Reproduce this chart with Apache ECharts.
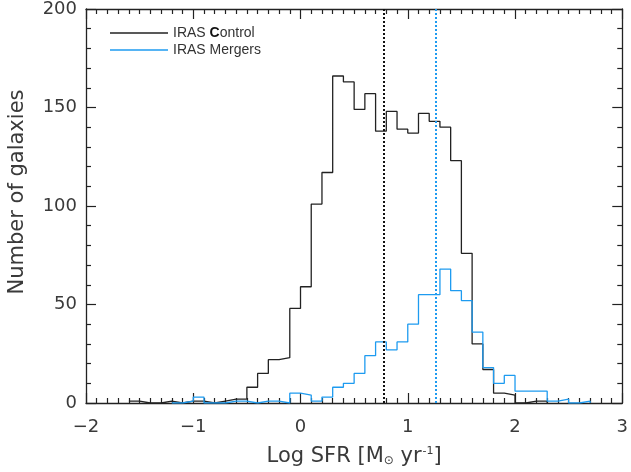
<!DOCTYPE html>
<html>
<head>
<meta charset="utf-8">
<script src="https://cdn.jsdelivr.net/npm/echarts@6/dist/echarts.min.js"></script>
<style>
  html, body { margin: 0; padding: 0; background: #fff; }
  #chart { width: 631px; height: 472px; }
</style>
</head>
<body>
<div id="chart"></div>
<script type="text/javascript">
// histogram bins, width 0.1 in Log SFR
var binWidth = 0.1;
var controlStart = -1.6;
var controlCounts = [1, 0, 0, 1, 0, 1, 1, 0, 1, 2, 2, 8, 15, 22, 23, 48, 59, 101, 117, 166,
                     163, 149, 157, 138, 148, 139, 137, 147, 143, 140, 123, 76, 30, 17, 5, 4, 0, 1, 1];
var mergerStart = -1.2;
var mergerCounts = [0, 1, 3, 0, 0, 1, 1, 0, 1, 1, 0, 5, 4, 1, 3, 8, 10, 15, 24, 31,
                    27, 31, 40, 55, 55, 68, 57, 52, 36, 18, 10, 14, 6, 6, 6, 1, 2, 0, 1];
var controlMedian = 0.78;
var mergerMedian = 1.26;

var xTicks = [-2, -1, 0, 1, 2, 3];
var yTicks = [0, 50, 100, 150, 200];

var font = 'DejaVu Sans';
var legendFont = 'Liberation Sans';

// step points: one per bin left edge, plus the closing edge
function stepPoints(start, counts) {
  var pts = [];
  for (var i = 0; i < counts.length; i++) {
    pts.push([+(start + i * binWidth).toFixed(2), counts[i]]);
  }
  var end = +(start + counts.length * binWidth).toFixed(2);
  pts.push([end, counts[counts.length - 1]]);
  pts.push([end, 0]);
  return pts;
}

var myChart = echarts.init(document.getElementById('chart'), null, { renderer: 'canvas' });

var axisCommon = {
  axisLine: { show: true, onZero: false, lineStyle: { color: '#222', width: 1.3 } },
  axisTick: { show: true, inside: true, length: 10, lineStyle: { color: '#222', width: 1.2 } },
  minorTick: { show: true, length: 5, lineStyle: { color: '#222', width: 1.2 } },
  splitLine: { show: false }
};

var option = {
  animation: false,
  grid: { left: 86, right: 4, top: 6, bottom: 67 },
  legend: {
    orient: 'vertical',
    left: 105,
    top: 21,
    itemWidth: 58,
    itemHeight: 1.5,
    itemGap: 3,
    icon: 'rect',
    data: ['IRAS Control', 'IRAS Mergers'],
    textStyle: {
      fontFamily: legendFont, fontSize: 14, color: '#333',
      rich: {
        n: { fontFamily: legendFont, fontSize: 14, color: '#333' },
        b: { fontFamily: legendFont, fontSize: 14, color: '#111', fontWeight: 'bold' }
      }
    },
    formatter: function (name) {
      if (name === 'IRAS Control') return '{n|IRAS }{b|C}{n|ontrol}';
      return '{n|' + name + '}';
    }
  },
  xAxis: [
    Object.assign({}, axisCommon, {
      type: 'value', position: 'bottom',
      min: xTicks[0], max: xTicks[xTicks.length - 1], interval: 1,
      minorTick: Object.assign({}, axisCommon.minorTick, { splitNumber: 10 }),
      axisLabel: {
        margin: 15, fontFamily: font, fontSize: 18, color: '#3a3a3a',
        formatter: function (v) { return v < 0 ? '\u2212' + Math.abs(v) : String(v); }
      },
      name: '{t|Log SFR [M}{s|\u2299}{t| yr}{p|-1}{t|]}',
      nameLocation: 'middle',
      nameGap: 43,
      nameTextStyle: {
        rich: {
          t: { fontFamily: font, fontSize: 21, color: '#3a3a3a' },
          s: { fontFamily: font, fontSize: 12, color: '#3a3a3a', verticalAlign: 'bottom', padding: [7, 0, 0, 0] },
          p: { fontFamily: font, fontSize: 11, color: '#3a3a3a', verticalAlign: 'top', padding: [0, 0, 7, 1] }
        }
      }
    }),
    Object.assign({}, axisCommon, {
      type: 'value', position: 'top',
      min: xTicks[0], max: xTicks[xTicks.length - 1], interval: 1,
      minorTick: Object.assign({}, axisCommon.minorTick, { splitNumber: 10 }),
      axisLabel: { show: false }
    })
  ],
  yAxis: [
    Object.assign({}, axisCommon, {
      type: 'value', position: 'left',
      min: yTicks[0], max: yTicks[yTicks.length - 1], interval: 50,
      minorTick: Object.assign({}, axisCommon.minorTick, { splitNumber: 5 }),
      axisLabel: { margin: 9, fontFamily: font, fontSize: 18, color: '#3a3a3a' }
    }),
    Object.assign({}, axisCommon, {
      type: 'value', position: 'right',
      min: yTicks[0], max: yTicks[yTicks.length - 1], interval: 50,
      minorTick: Object.assign({}, axisCommon.minorTick, { splitNumber: 5 }),
      axisLabel: { show: false }
    })
  ],
  graphic: [
    {
      type: 'text',
      x: 18, y: 192,
      rotation: Math.PI / 2,
      style: {
        text: 'Number of galaxies',
        fontFamily: font, fontSize: 21, fill: '#3a3a3a',
        align: 'center', verticalAlign: 'middle'
      }
    }
  ],
  series: [
    {
      name: 'IRAS Control',
      type: 'line',
      step: 'end',
      showSymbol: false,
      data: stepPoints(controlStart, controlCounts),
      lineStyle: { color: '#222', width: 1.3 },
      itemStyle: { color: '#222' },
      markLine: {
        silent: true, symbol: 'none', label: { show: false },
        lineStyle: { color: '#111', type: 'dotted', width: 2 },
        data: [{ xAxis: controlMedian }]
      }
    },
    {
      name: 'IRAS Mergers',
      type: 'line',
      step: 'end',
      showSymbol: false,
      data: stepPoints(mergerStart, mergerCounts),
      lineStyle: { color: '#1e9bf0', width: 1.3 },
      itemStyle: { color: '#1e9bf0' },
      markLine: {
        silent: true, symbol: 'none', label: { show: false },
        lineStyle: { color: '#1e9bf0', type: 'dotted', width: 2 },
        data: [{ xAxis: mergerMedian }]
      }
    }
  ]
};
myChart.setOption(option);
</script>
</body>
</html>
